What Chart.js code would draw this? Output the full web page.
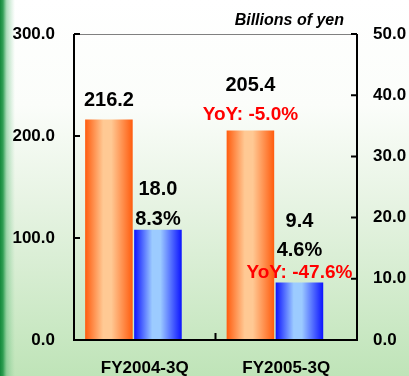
<!DOCTYPE html>
<html>
<head>
<meta charset="utf-8">
<script src="https://cdn.jsdelivr.net/npm/chart.js@4"></script>
<style>
  html, body { margin: 0; padding: 0; background: #ffffff; }
  canvas { display: block; }
</style>
</head>
<body>
<canvas id="chart" width="409" height="376"></canvas>
<script>
// Quarterly results, billions of yen
const categories = ['FY2004-3Q', 'FY2005-3Q'];
const salesValues = [216.2, 205.4];        // left axis
const incomeValues = [18.0, 9.4];          // right axis
const marginLabels = ['8.3%', '4.6%'];
const salesYoY = [null, 'YoY: -5.0%'];
const incomeYoY = [null, 'YoY: -47.6%'];
const leftTicks = [0, 100, 200, 300];
const rightTicks = [0, 10, 20, 30, 40, 50];

const FONT = "'Liberation Sans', Arial, Helvetica, sans-serif";
const GROUP_SHIFT = -0.08;   // bar pair sits slightly left of the category centre

const toPoints = vals => vals.map((v, i) => ({ x: i + 0.5 + GROUP_SHIFT, y: v }));

// label stacks above each bar: [text, colour, size, offset above bar top]
function labelStack(dsIndex, i) {
  if (dsIndex === 0) {
    const v = salesValues[i].toFixed(1);
    return salesYoY[i]
      ? [[v, '#000', 20, 45.5], [salesYoY[i], '#ff0000', 19, 15.5]]
      : [[v, '#000', 20, 19]];
  }
  const v = incomeValues[i].toFixed(1);
  return incomeYoY[i]
    ? [[v, '#000', 20, 61], [marginLabels[i], '#000', 20, 32], [incomeYoY[i], '#ff0000', 19, 9.5]]
    : [[v, '#000', 20, 40], [marginLabels[i], '#000', 20, 10.5]];
}

const barShades = [
  ['#ff5c0e', '#ffc994'],
  ['#0c14ff', '#9ccbff']
];

const backgroundPlugin = {
  id: 'panelBackground',
  beforeDraw(chart) {
    const { ctx, width, height } = chart;
    ctx.save();
    const g = ctx.createLinearGradient(0, 0, 0, height);
    g.addColorStop(0, '#ffffff');
    g.addColorStop(0.28, '#fbfdfa');
    g.addColorStop(0.55, '#e6f3e2');
    g.addColorStop(1, '#bfe4b8');
    ctx.fillStyle = g;
    ctx.fillRect(0, 0, width, height);
    const s = ctx.createLinearGradient(0, 0, 15, 0);
    s.addColorStop(0, 'rgba(18,136,58,1)');
    s.addColorStop(0.2, 'rgba(30,150,70,0.9)');
    s.addColorStop(0.45, 'rgba(80,180,110,0.45)');
    s.addColorStop(1, 'rgba(120,200,140,0)');
    ctx.fillStyle = s;
    ctx.fillRect(0, 0, 15, height);
    ctx.restore();
  }
};

const barGradientPlugin = {
  id: 'barGradient',
  beforeDatasetsDraw(chart) {
    const ctx = chart.ctx;
    chart.data.datasets.forEach((ds, d) => {
      const [dark, light] = barShades[d];
      chart.getDatasetMeta(d).data.forEach(el => {
        const x0 = el.x - el.width / 2, x1 = el.x + el.width / 2;
        const g = ctx.createLinearGradient(x0, 0, x1, 0);
        g.addColorStop(0, dark);
        g.addColorStop(0.38, light);
        g.addColorStop(0.55, light);
        g.addColorStop(1, dark);
        el.options = Object.assign({}, el.options, { backgroundColor: g });
      });
    });
  }
};

const framePlugin = {
  id: 'frame',
  afterDatasetsDraw(chart) {
    const { ctx, chartArea: a, scales } = chart;
    ctx.save();
    // top edge
    ctx.strokeStyle = '#808080';
    ctx.lineWidth = 1;
    ctx.beginPath();
    ctx.moveTo(a.left, a.top + 0.5);
    ctx.lineTo(a.right, a.top + 0.5);
    ctx.stroke();
    // axes
    ctx.strokeStyle = '#000';
    ctx.lineWidth = 2;
    ctx.beginPath();
    ctx.moveTo(a.left, a.top);
    ctx.lineTo(a.left, a.bottom);
    ctx.lineTo(a.right, a.bottom);
    ctx.lineTo(a.right, a.top);
    ctx.stroke();
    // inward tick marks
    ctx.beginPath();
    leftTicks.forEach(v => {
      const y = scales.y.getPixelForValue(v);
      ctx.moveTo(a.left, y); ctx.lineTo(a.left + 6, y);
    });
    rightTicks.forEach(v => {
      const y = scales.y2.getPixelForValue(v);
      ctx.moveTo(a.right, y); ctx.lineTo(a.right - 6, y);
    });
    for (let i = 1; i < categories.length; i++) {
      const x = scales.x.getPixelForValue(i);
      ctx.moveTo(x, a.bottom); ctx.lineTo(x, a.bottom - 7);
    }
    ctx.stroke();
    ctx.restore();
  }
};

const labelPlugin = {
  id: 'barLabels',
  afterDatasetsDraw(chart) {
    const ctx = chart.ctx;
    ctx.save();
    ctx.textAlign = 'center';
    ctx.textBaseline = 'middle';
    chart.data.datasets.forEach((ds, d) => {
      chart.getDatasetMeta(d).data.forEach((el, i) => {
        labelStack(d, i).forEach(([text, color, size, off]) => {
          ctx.fillStyle = color;
          ctx.font = `bold ${size}px ${FONT}`;
          ctx.fillText(text, el.x, el.y - off);
        });
      });
    });
    // unit caption
    ctx.fillStyle = '#000';
    ctx.font = `italic bold 16px ${FONT}`;
    ctx.textAlign = 'right';
    ctx.textBaseline = 'alphabetic';
    ctx.fillText('Billions of yen', 344, 25);
    ctx.restore();
  }
};

const tickFont = { family: FONT, size: 17, weight: 'bold' };

new Chart(document.getElementById('chart'), {
  type: 'bar',
  data: {
    datasets: [
      { label: 'Net sales', data: toPoints(salesValues), yAxisID: 'y', backgroundColor: barShades[0][0], borderWidth: 0 },
      { label: 'Operating income', data: toPoints(incomeValues), yAxisID: 'y2', backgroundColor: barShades[1][0], borderWidth: 0 }
    ]
  },
  options: {
    responsive: false,
    animation: false,
    layout: { padding: { top: 34, left: 0, right: 0, bottom: 0 } },
    datasets: { bar: { categoryPercentage: 0.693, barPercentage: 0.97 } },
    plugins: { legend: { display: false }, tooltip: { enabled: false } },
    scales: {
      x: {
        type: 'linear', min: 0, max: categories.length, offset: false,
        afterBuildTicks: s => { s.ticks = categories.map((c, i) => ({ value: i + 0.5 })); },
        afterFit: s => { s.height = 36; },
        ticks: {
          callback: v => categories[Math.floor(v)],
          font: tickFont, color: '#000', padding: 18, maxRotation: 0, autoSkip: false
        },
        grid: { display: false, drawTicks: false },
        border: { display: false }
      },
      y: {
        position: 'left', min: 0, max: 300,
        afterBuildTicks: s => { s.ticks = leftTicks.map(v => ({ value: v })); },
        afterFit: s => { s.width = 74; },
        ticks: { callback: v => v.toFixed(1), font: tickFont, color: '#000', padding: 19 },
        grid: { display: false, drawTicks: false },
        border: { display: false }
      },
      y2: {
        position: 'right', min: 0, max: 50,
        afterBuildTicks: s => { s.ticks = rightTicks.map(v => ({ value: v })); },
        afterFit: s => { s.width = 52; },
        ticks: { callback: v => v.toFixed(1), font: tickFont, color: '#000', padding: 16 },
        grid: { display: false, drawTicks: false },
        border: { display: false }
      }
    }
  },
  plugins: [backgroundPlugin, barGradientPlugin, framePlugin, labelPlugin]
});
</script>
</body>
</html>
